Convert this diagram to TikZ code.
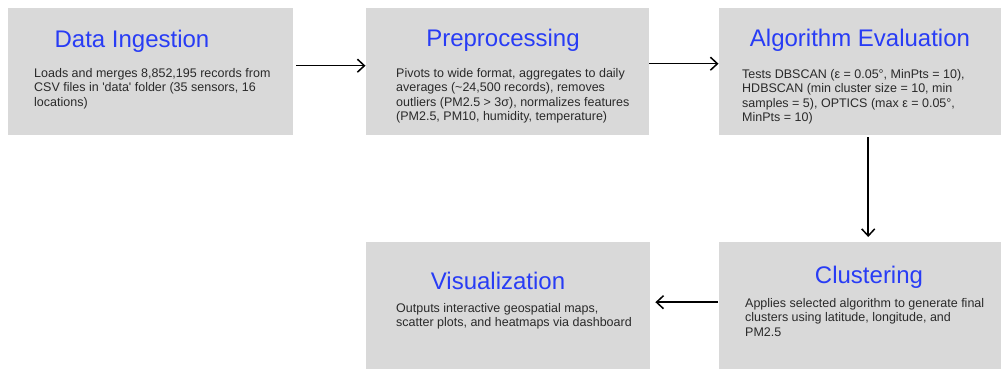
\documentclass[tikz,border=0pt]{standalone}
\usepackage{fontspec}
\setmainfont{Liberation Sans}[Ligatures=TeXOff]
\usetikzlibrary{arrows.meta}
\definecolor{boxgray}{HTML}{D9D9D9}
\definecolor{titleblue}{RGB}{40,60,245}
\definecolor{bodytext}{HTML}{2A2A2A}
\tikzset{
  stagebox/.style={fill=boxgray, draw=none, inner sep=0pt, anchor=north west,
    minimum width=#1, minimum height=127pt},
  stagetitle/.style={anchor=base, inner sep=0pt, text=titleblue,
    font=\fontsize{24}{28}\selectfont},
  % anchored at the baseline of the last line
  stagebody/.style={anchor=base west, inner sep=0pt, align=left, text=bodytext,
    font=\fontsize{12.5}{14.6}\selectfont},
  flow/.style={draw=black, line width=1.6pt,
    -{Straight Barb[length=7pt,width=13pt,line width=1.5pt]}}
}
\begin{document}
\begin{tikzpicture}[x=1pt,y=-1pt]
\useasboundingbox (0,0) rectangle (1001,369);

% stage boxes
\node[stagebox=285pt] (b1) at (8,8) {};
\node[stagebox=283pt] (b2) at (366,8) {};
\node[stagebox=282pt] (b3) at (719,8) {};
\node[stagebox=284pt] (b4) at (366,242) {};
\node[stagebox=282pt] (b5) at (719,242) {};

% titles
\node[stagetitle] (t1) at (132,48) {Data Ingestion};
\node[stagetitle] (t2) at (503,47) {Preprocessing};
\node[stagetitle] (t3) at (860,47) {Algorithm Evaluation};
\node[stagetitle] (t4) at (498,289) {Visualization};
\node[stagetitle] (t5) at (869,283) {Clustering};

% descriptions
\node[stagebody] (d1) at (34,106.2) {Loads and merges 8,852,195 records from\\CSV files in 'data' folder (35 sensors, 16\\locations)};
\node[stagebody] (d2) at (396,120.8) {Pivots to wide format, aggregates to daily\\averages (\textasciitilde24,500 records), removes\\outliers (PM2.5 > 3σ), normalizes features\\(PM2.5, PM10, humidity, temperature)};
\node[stagebody] (d3) at (742,121.8) {Tests DBSCAN (ε = 0.05°, MinPts = 10),\\HDBSCAN (min cluster size = 10, min\\samples = 5), OPTICS (max ε = 0.05°,\\MinPts = 10)};
\node[stagebody] (d4) at (396,326.6) {Outputs interactive geospatial maps,\\scatter plots, and heatmaps via dashboard};
\node[stagebody] (d5) at (745,336.2) {Applies selected algorithm to generate final\\clusters using latitude, longitude, and\\PM2.5};

% flow between stages
\draw[flow] ([xshift=3pt,yshift=6pt]b1.east) -- ([xshift=-0.5pt,yshift=6pt]b2.west);
\draw[flow] ([yshift=8pt]b2.east) -- ([xshift=-0.5pt,yshift=8pt]b3.west);
\draw[flow] ([xshift=8pt,yshift=-2pt]b3.south) -- ([xshift=8pt,yshift=5pt]b5.north);
\draw[flow] ([xshift=-1pt,yshift=3.5pt]b5.west) -- ([xshift=5pt,yshift=3.5pt]b4.east);
\end{tikzpicture}
\end{document}
